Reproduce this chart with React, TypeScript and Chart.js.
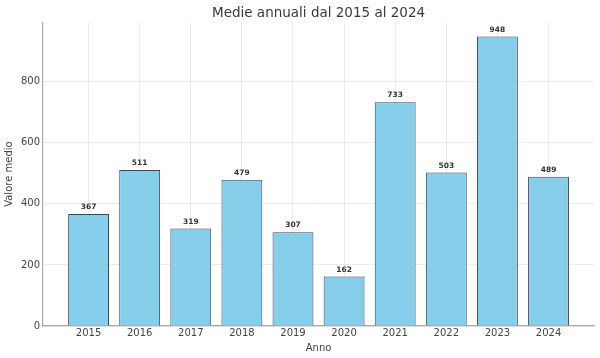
import React, { useEffect, useRef } from "react";
import { Chart, registerables } from "chart.js";

Chart.register(...registerables);

const years = ["2015", "2016", "2017", "2018", "2019", "2020", "2021", "2022", "2023", "2024"];
const values = [367, 511, 319, 479, 307, 162, 733, 503, 948, 489];
const yTicks = [0, 200, 400, 600, 800];

const FONT = "'DejaVu Sans', sans-serif";

const valueLabels = {
  id: "valueLabels",
  afterDatasetsDraw(chart: any) {
    const ctx = chart.ctx;
    const meta = chart.getDatasetMeta(0);
    ctx.save();
    ctx.font = `bold 7.5px ${FONT}`;
    ctx.fillStyle = "#333333";
    ctx.textAlign = "center";
    ctx.textBaseline = "bottom";
    meta.data.forEach((el: any, i: number) => {
      ctx.fillText(String(values[i]), el.x, el.y - 3);
    });
    ctx.restore();
  },
};

export default function App() {
  const ref = useRef<HTMLCanvasElement | null>(null);
  useEffect(() => {
    if (!ref.current) return;
    const chart = new Chart(ref.current, {
      type: "bar",
      data: {
        datasets: [
          {
            data: values.map((v, i) => ({ x: i, y: v })),
            backgroundColor: "#87CEEB",
            borderColor: "rgba(20,40,60,0.85)",
            borderWidth: 1,
            barPercentage: 0.8,
            categoryPercentage: 1.0,
          },
        ],
      },
      options: {
        animation: false,
        responsive: false,
        maintainAspectRatio: false,
        layout: { padding: { left: 3, right: 6, top: 0, bottom: 4 } },
        plugins: {
          legend: { display: false },
          tooltip: { enabled: false },
          title: {
            display: true,
            fullSize: false,
            text: "Medie annuali dal 2015 al 2024",
            font: { family: FONT, size: 13.5, weight: "normal" },
            color: "#3a3a3a",
            padding: { top: 5, bottom: 1 },
          },
        },
        scales: {
          x: {
            type: "linear",
            offset: false,
            min: -0.89,
            max: 9.89,
            afterBuildTicks(axis: any) {
              axis.ticks = years.map((_, i) => ({ value: i }));
            },
            ticks: {
              callback: (v: any) => years[v] ?? "",
              font: { family: FONT, size: 10 },
              color: "#444444",
              padding: 1,
              maxRotation: 0,
              autoSkip: false,
            },
            grid: {
              offset: false,
              color: "rgba(200,200,200,0.45)",
              drawTicks: false,
              lineWidth: 0.8,
            },
            border: { display: true, color: "#aaaaaa", width: 1.2 },
            title: {
              display: true,
              text: "Anno",
              font: { family: FONT, size: 10 },
              color: "#444444",
              padding: { top: 2, bottom: 0 },
            },
          },
          y: {
            type: "linear",
            min: 0,
            max: 995,
            afterBuildTicks(axis: any) {
              axis.ticks = yTicks.map((v) => ({ value: v }));
            },
            ticks: {
              font: { family: FONT, size: 10 },
              color: "#444444",
              padding: 3,
            },
            grid: {
              color: "rgba(200,200,200,0.45)",
              drawTicks: false,
              lineWidth: 0.8,
            },
            border: { display: true, color: "#aaaaaa", width: 1.2 },
            title: {
              display: true,
              text: "Valore medio",
              font: { family: FONT, size: 10 },
              color: "#444444",
              padding: { top: 0, bottom: 3 },
            },
          },
        },
      },
      plugins: [valueLabels],
    });
    return () => chart.destroy();
  }, []);
  return (
    <div style={{ position: "fixed", left: 0, top: 0, width: 600, height: 358, background: "#fff" }}>
      <canvas ref={ref} width={600} height={358} style={{ width: 600, height: 358 }} />
    </div>
  );
}
